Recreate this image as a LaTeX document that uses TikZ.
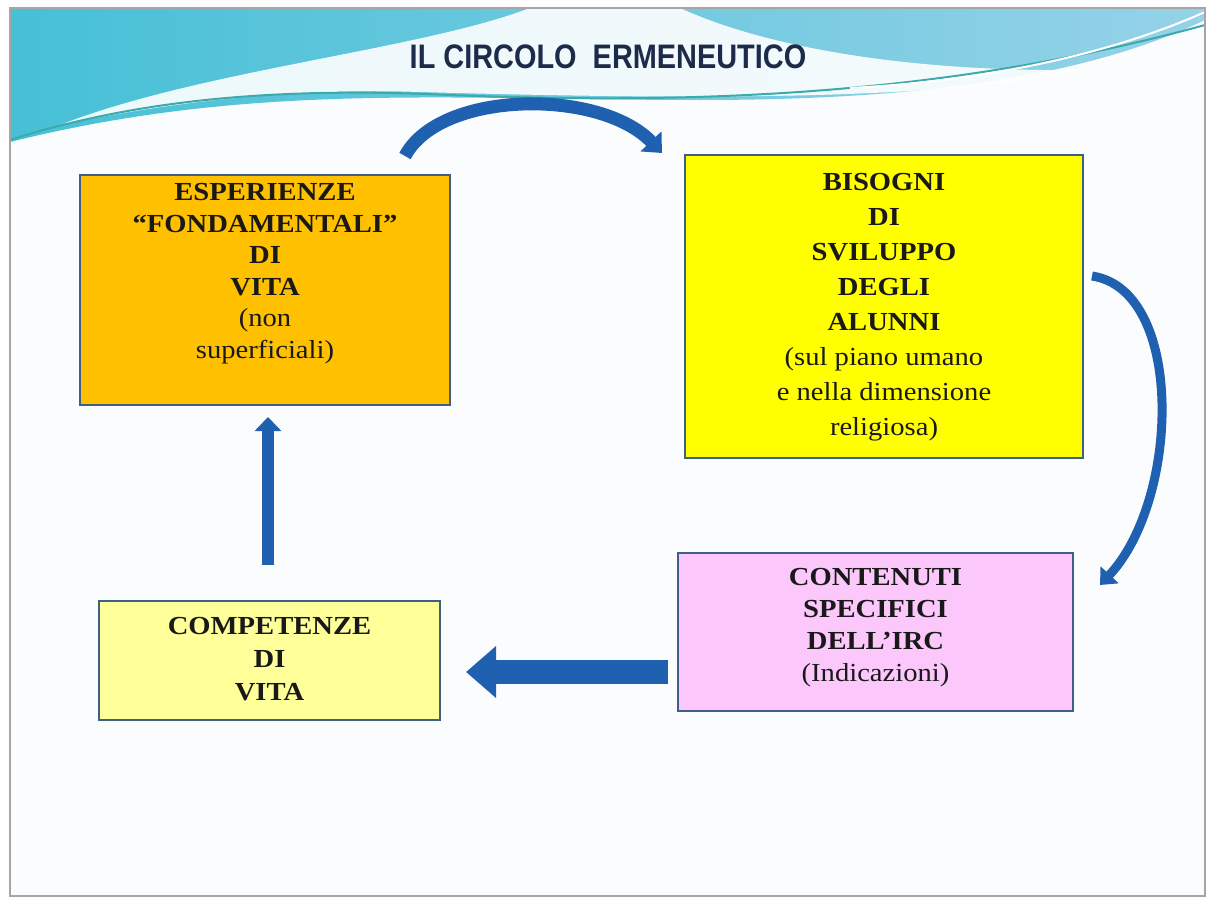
\documentclass[tikz,border=0pt]{standalone}
\usepackage{fontspec}
\setmainfont{Liberation Serif}[FakeStretch=1.1]
\newfontfamily\titlefont{Liberation Sans}[FakeStretch=0.85]
\usetikzlibrary{positioning,arrows.meta}

\definecolor{boxline}{RGB}{63,95,134}
\definecolor{arrowblue}{RGB}{31,96,176}
\definecolor{orangebox}{RGB}{255,192,0}
\definecolor{yellowbox}{RGB}{255,255,0}
\definecolor{pinkbox}{RGB}{252,200,252}
\definecolor{paleyellow}{RGB}{255,255,153}
\definecolor{slidebg}{RGB}{251,252,253}
\definecolor{wavecyan}{RGB}{70,192,214}
\definecolor{waveblue}{RGB}{150,210,232}
\definecolor{waveteal}{RGB}{60,170,170}
\definecolor{titleblue}{RGB}{28,43,74}

\begin{document}
\begin{tikzpicture}[x=1pt,y=-1pt,
  box/.style={draw=boxline, line width=1.5pt, rectangle, inner sep=0pt},
  lbl/.style={align=center, inner sep=0pt, text=black!90, font=\fontsize{26pt}{#1pt}\selectfont},
  flowarrow/.style={draw=arrowblue}]

\useasboundingbox (0,0) rectangle (1208,902);

% slide background and header
\fill[white] (0,0) rectangle (1208,902);
\fill[slidebg] (10,8) rectangle (1205,896);
\shade[left color=wavecyan, right color=waveblue] (10,8) -- (1205,8) -- (1205,20)
  .. controls (1100,70) and (950,100) .. (700,100)
  .. controls (450,100) and (250,82) .. (10,142) -- cycle;
\fill[white, opacity=0.9] (530,8) -- (680,8) .. controls (760,45) and (900,72) .. (1080,70)
  .. controls (950,100) and (700,100) .. (420,92)
  .. controls (300,88) and (180,100) .. (60,125)
  .. controls (200,70) and (420,50) .. (530,8);
\draw[waveteal, line width=2pt] (10,140) .. controls (150,95) and (300,88) .. (450,95)
  .. controls (700,105) and (950,95) .. (1205,25);
\draw[white, line width=2pt] (1205,12) .. controls (1120,50) and (1000,80) .. (850,88);
\draw[gray!70, line width=1.5pt] (10,8) rectangle (1205,896);

\node[font=\titlefont\bfseries\fontsize{34pt}{40pt}\selectfont, text=titleblue] (title) at (608,57) {IL CIRCOLO\ \ ERMENEUTICO};

% boxes
\node[box, fill=orangebox, minimum width=370pt, minimum height=230pt] (esperienze) at (265,290) {};
\node[box, fill=yellowbox, minimum width=398pt, minimum height=303pt] (bisogni) at (884,306.5) {};
\node[box, fill=pinkbox, minimum width=395pt, minimum height=158pt] (contenuti) at (875.5,632) {};
\node[box, fill=paleyellow, minimum width=341pt, minimum height=119pt] (competenze) at (269.5,660.5) {};

\node[lbl=31.5, below=9pt of esperienze.north] (esperienzetxt) {\textbf{ESPERIENZE}\\ \textbf{“FONDAMENTALI”}\\ \textbf{DI}\\ \textbf{VITA}\\ (non\\ superficiali)};
\node[lbl=35, below=19pt of bisogni.north] (bisognitxt) {\textbf{BISOGNI}\\ \textbf{DI}\\ \textbf{SVILUPPO}\\ \textbf{DEGLI}\\ \textbf{ALUNNI}\\ (sul piano umano\\ e nella dimensione\\ religiosa)};
\node[lbl=32, below=16pt of contenuti.north] (contenutitxt) {\textbf{CONTENUTI}\\ \textbf{SPECIFICI}\\ \textbf{DELL’IRC}\\ (Indicazioni)};
\node[lbl=33, below=17pt of competenze.north] (competenzetxt) {\textbf{COMPETENZE}\\ \textbf{DI}\\ \textbf{VITA}};

% arrows
\coordinate (topstart) at (405,156);
\coordinate (topend) at (662,153);
\coordinate (rightstart) at (1092,276);
\coordinate (rightend) at (1100,585);
\coordinate (leftstart) at (668,672);
\coordinate (leftend) at (466,672);
\coordinate (upstart) at (268,565);
\coordinate (upend) at (268,417);

\draw[flowarrow, line width=13pt, -{Triangle[length=16pt,width=28pt]}] (topstart) .. controls (440,90) and (600,88) .. (topend);
\draw[flowarrow, line width=9pt, -{Triangle[length=14pt,width=24pt]}] (rightstart) .. controls (1185,290) and (1180,500) .. (rightend);
\draw[flowarrow, line width=24pt, -{Triangle[length=30pt,width=50pt]}] (leftstart) -- (leftend);
\draw[flowarrow, line width=12pt, -{Triangle[length=14pt,width=26pt]}] (upstart) -- (upend);

\end{tikzpicture}
\end{document}
